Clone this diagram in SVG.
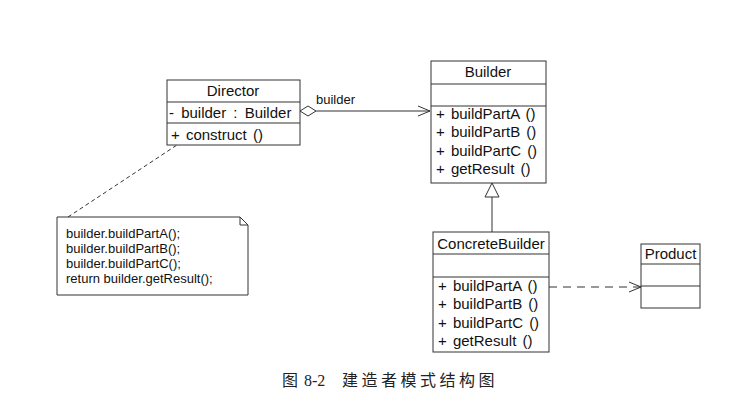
<svg xmlns="http://www.w3.org/2000/svg" width="732" height="403" viewBox="0 0 732 403">
<style>
.box{fill:#fff;stroke:#333;stroke-width:1}
.ln{fill:none;stroke:#333;stroke-width:1}
.t{font-family:"Liberation Sans",Arial,sans-serif;font-size:15px;fill:#111;word-spacing:2px}
.c{text-anchor:middle}
.n{font-family:"Liberation Sans",Arial,sans-serif;font-size:13px;fill:#111}
.cap{font-family:"Liberation Serif","Noto Sans CJK SC",serif;font-size:16px;fill:#222}
</style>
<rect width="732" height="403" fill="#fff"/>
<g id="connectors">
<line class="ln" x1="316" y1="111" x2="430" y2="111"/>
<polygon points="300,111 308,106 316,111 308,116" fill="#fff" stroke="#333"/>
<polyline class="ln" points="418,106 430,111 418,116"/>
<text class="t" x="316" y="104" style="font-size:13px">builder</text>
<line class="ln" x1="492" y1="232" x2="492" y2="197"/>
<polygon points="492,183 485,197 499,197" fill="#fff" stroke="#333"/>
<line class="ln" x1="549" y1="287" x2="641" y2="287" stroke-dasharray="8,6"/>
<polyline class="ln" points="629,282 641,287 629,292"/>
<line class="ln" x1="68" y1="217" x2="180" y2="143" stroke-dasharray="4,3"/>
</g>
<g id="director">
<rect class="box" x="167" y="80" width="133" height="65"/>
<line class="ln" x1="167" y1="102" x2="300" y2="102"/>
<line class="ln" x1="167" y1="123" x2="300" y2="123"/>
<text class="t c" x="233" y="96">Director</text>
<text class="t" x="169" y="118" style="word-spacing:3px">- builder : Builder</text>
<text class="t" x="171" y="140">+ construct ()</text>
</g>
<g id="builder">
<rect class="box" x="431" y="61" width="115" height="122"/>
<line class="ln" x1="431" y1="84" x2="546" y2="84"/>
<line class="ln" x1="431" y1="106" x2="546" y2="106"/>
<text class="t c" x="488" y="77">Builder</text>
<text class="t" x="436" y="119">+ buildPartA ()</text>
<text class="t" x="436" y="137">+ buildPartB ()</text>
<text class="t" x="436" y="156">+ buildPartC ()</text>
<text class="t" x="436" y="174">+ getResult ()</text>
</g>
<g id="concretebuilder">
<rect class="box" x="433" y="232" width="116" height="120"/>
<line class="ln" x1="433" y1="254" x2="549" y2="254"/>
<line class="ln" x1="433" y1="277" x2="549" y2="277"/>
<text class="t c" x="491" y="249">ConcreteBuilder</text>
<text class="t" x="438" y="291">+ buildPartA ()</text>
<text class="t" x="438" y="309">+ buildPartB ()</text>
<text class="t" x="438" y="328">+ buildPartC ()</text>
<text class="t" x="438" y="346">+ getResult ()</text>
</g>
<g id="product">
<rect class="box" x="641" y="244" width="59" height="64"/>
<line class="ln" x1="641" y1="264" x2="700" y2="264"/>
<line class="ln" x1="641" y1="286" x2="700" y2="286"/>
<text class="t c" x="670.5" y="259">Product</text>
</g>
<g id="note">
<path class="box" d="M57,217 H240 L248,225 V295 H57 Z"/>
<path class="ln" d="M240,217 V225 H248"/>
<text class="n" x="66" y="238">builder.buildPartA();</text>
<text class="n" x="66" y="253">builder.buildPartB();</text>
<text class="n" x="66" y="268">builder.buildPartC();</text>
<text class="n" x="66" y="283">return builder.getResult();</text>
</g>
<g id="caption">
<text class="cap" x="282" y="386">图</text>
<text class="cap" x="304" y="386">8-2</text>
<text class="cap" x="342" y="386" style="letter-spacing:3.5px">建造者模式结构图</text>
</g>
</svg>
